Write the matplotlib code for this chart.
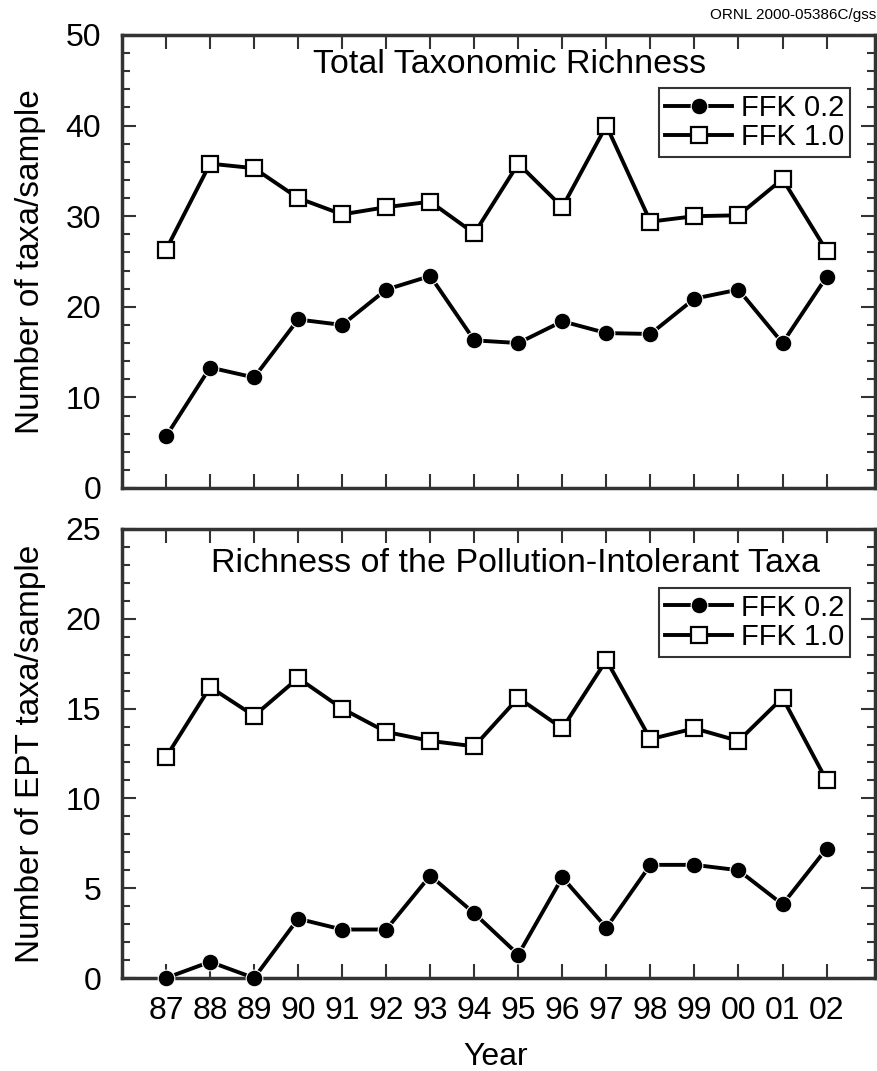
import matplotlib
matplotlib.use("Agg")
import matplotlib.pyplot as plt
from matplotlib.ticker import MultipleLocator

plt.rcParams['font.family'] = ['Liberation Sans', 'DejaVu Sans']

years = ["87", "88", "89", "90", "91", "92", "93", "94", "95", "96", "97", "98", "99", "00", "01", "02"]

total_ffk02 = [5.7, 13.3, 12.2, 18.6, 18.0, 21.9, 23.4, 16.3, 16.0, 18.4, 17.1, 17.0, 20.9, 21.9, 16.0, 23.3]
total_ffk10 = [26.3, 35.8, 35.3, 32.0, 30.2, 31.0, 31.6, 28.1, 35.8, 31.0, 40.0, 29.4, 30.0, 30.1, 34.1, 26.2]

ept_ffk02 = [0.0, 0.9, 0.0, 3.3, 2.7, 2.7, 5.7, 3.6, 1.3, 5.6, 2.8, 6.3, 6.3, 6.0, 4.1, 7.2]
ept_ffk10 = [12.3, 16.2, 14.6, 16.7, 15.0, 13.7, 13.2, 12.9, 15.6, 13.9, 17.7, 13.3, 13.9, 13.2, 15.6, 11.0]

series_labels = ["FFK 0.2", "FFK 1.0"]

W, H = 878, 1071
fig = plt.figure(figsize=(W / 100, H / 100), dpi=100)

ax1 = fig.add_axes([122 / W, 1 - 488 / H, 753 / W, 453 / H])
ax2 = fig.add_axes([122 / W, 1 - 978 / H, 753 / W, 449 / H])

xs = list(range(len(years)))

def style(ax, ymax, major, minor, ylabel, title, tx, ty, leg_y, show_x):
    ax.set_xlim(-1, 16.1)
    ax.set_ylim(0, ymax)
    ax.yaxis.set_major_locator(MultipleLocator(major))
    ax.yaxis.set_minor_locator(MultipleLocator(minor))
    ax.set_xticks(xs)
    ax.set_xticklabels(years if show_x else [])
    ax.tick_params(axis='both', which='both', direction='in', top=True, right=True,
                   width=1.5, color='#333333')
    ax.tick_params(axis='both', which='major', length=10, labelsize=23, pad=13)
    ax.tick_params(axis='both', which='minor', length=6)
    ax.tick_params(axis='y', which='major', pad=15)
    for sp in ax.spines.values():
        sp.set_linewidth(2.5)
        sp.set_color('#333333')
    ax.set_ylabel(ylabel, fontsize=24, labelpad=14)
    ax.text(tx, ty, title, transform=ax.transAxes, ha='center', va='center', fontsize=24.5)
    leg = ax.legend(loc='upper right', bbox_to_anchor=(0.967, leg_y), fontsize=21,
                    frameon=True, fancybox=False, borderpad=0.2, handlelength=2.3,
                    handletextpad=0.3, labelspacing=0.05, borderaxespad=0)
    leg.get_frame().set_edgecolor('black')
    leg.get_frame().set_linewidth(1.5)

for ax, a, b in [(ax1, total_ffk02, total_ffk10), (ax2, ept_ffk02, ept_ffk10)]:
    ax.plot(xs, a, color='black', lw=2.8, marker='o', markersize=12,
            markerfacecolor='black', markeredgecolor='white', markeredgewidth=0.8,
            label=series_labels[0], clip_on=False, zorder=3)
    ax.plot(xs, b, color='black', lw=2.8, marker='s', markersize=11,
            markerfacecolor='white', markeredgecolor='black', markeredgewidth=1.6,
            label=series_labels[1], clip_on=False, zorder=3)

style(ax1, 50, 10, 2, "Number of taxa/sample", "Total Taxonomic Richness", 0.515, 0.934, 0.883, False)
style(ax2, 25, 5, 1, "Number of EPT taxa/sample", "Richness of the Pollution-Intolerant Taxa", 0.522, 0.924, 0.869, True)

fig.text(496 / W, 1 - 1065 / H, "Year", ha='center', va='baseline', fontsize=23)

fig.text(876 / W, 1 - 15 / H, "ORNL 2000-05386C/gss", ha='right', va='center', fontsize=11)

fig.savefig("out.png", dpi=100)
